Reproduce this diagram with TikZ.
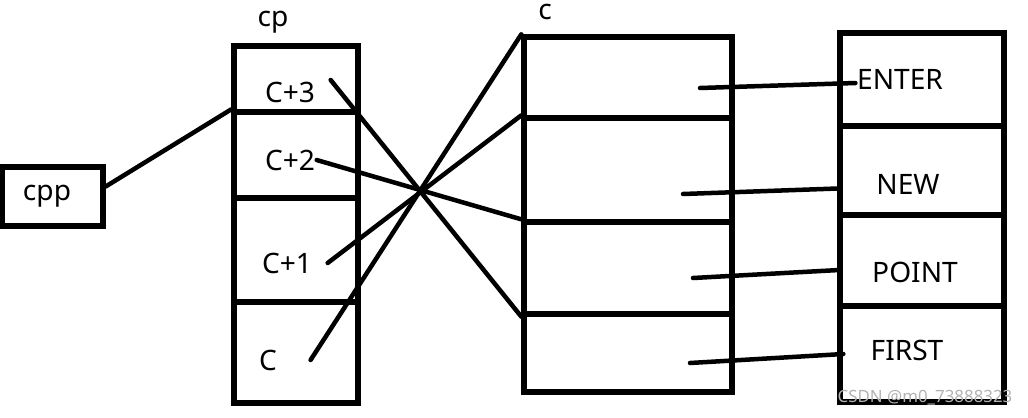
\documentclass[tikz,border=0pt]{standalone}
\usepackage{fontspec}
\setmainfont{Noto Sans}
\usepackage{xcolor}

\begin{document}
\begin{tikzpicture}[
    x=0.025cm, y=-0.025cm,
    cell/.style={draw, line width=3.8pt, inner sep=0pt},
    lbl/.style={font=\fontsize{20}{24}\selectfont, inner sep=1pt},
    link/.style={line width=3.2pt, line cap=round},
]
    \useasboundingbox (0,0) rectangle (1028,417);

    \node[cell, minimum width=2.525cm, minimum height=1.475cm] (cpp) at (52.5,196.5) {};
    \node[lbl] (cpptext) at (47,196) {cpp};

    \node[cell, minimum width=3.1cm, minimum height=1.65cm]  (cp3) at (296,79)    {};
    \node[cell, minimum width=3.1cm, minimum height=2.15cm]  (cp2) at (296,155)   {};
    \node[cell, minimum width=3.1cm, minimum height=2.6cm]   (cp1) at (296,250)   {};
    \node[cell, minimum width=3.1cm, minimum height=2.525cm] (cp0) at (296,352.5) {};
    \node[lbl] (cptitle) at (273,22) {cp};
    \node[lbl] (c3) at (290,92)  {C+3};
    \node[lbl] (c2) at (290,160) {C+2};
    \node[lbl] (c1) at (287,263) {C+1};
    \node[lbl] (c0) at (268,360) {C};

    \node[cell, minimum width=5.2cm, minimum height=2.025cm] (cc3) at (628,77.5) {};
    \node[cell, minimum width=5.2cm, minimum height=2.6cm]   (cc2) at (628,170)  {};
    \node[cell, minimum width=5.2cm, minimum height=2.3cm]   (cc1) at (628,268)  {};
    \node[cell, minimum width=5.2cm, minimum height=1.95cm]  (cc0) at (628,353)  {};
    \node[lbl] (ctitle) at (545,12) {c};

    \node[cell, minimum width=4.1cm, minimum height=2.325cm] (enter) at (922,79.5)  {};
    \node[cell, minimum width=4.1cm, minimum height=2.225cm] (new)   at (922,170.5) {};
    \node[cell, minimum width=4.1cm, minimum height=2.275cm] (point) at (922,260.5) {};
    \node[cell, minimum width=4.1cm, minimum height=2.4cm]   (first) at (922,354)   {};
    \node[lbl] (entertext) at (900,79)  {ENTER};
    \node[lbl] (newtext)   at (908,184) {NEW};
    \node[lbl] (pointtext) at (915,272) {POINT};
    \node[lbl] (firsttext) at (907,350) {FIRST};

    \coordinate (p3) at (700,88);
    \coordinate (p2) at (683,194);
    \coordinate (p1) at (693,278);
    \coordinate (p0) at (690,363);

    \draw[link] ([yshift=0.25cm]cpp.east) -- (cp2.north west);
    \draw[link] ([xshift=0.35cm]c3.north east) -- (cc1.south west);
    \draw[link] (c2.east) -- (cc1.north west);
    \draw[link] ([xshift=0.35cm]c1.east) -- (cc2.north west);
    \draw[link] ([xshift=0.8cm]c0.east) -- (cc3.north west);

    \draw[link] (p3) -- ([yshift=-0.1cm]entertext.west);
    \draw[link] (p2) -- ([yshift=-0.45cm]new.west);
    \draw[link] (p1) -- ([yshift=-0.24cm]point.west);
    \draw[link] (p0) -- ([xshift=0.15cm]first.west);

    \node[text=gray!60, font=\fontsize{12}{14}\selectfont] (mark) at (925,398) {CSDN @m0\_73888323};
\end{tikzpicture}
\end{document}
